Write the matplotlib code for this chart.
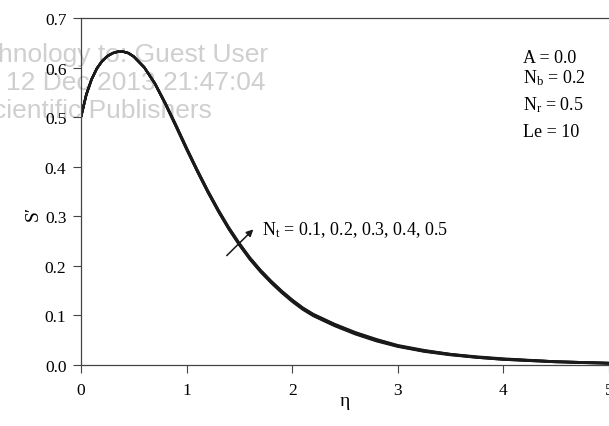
import matplotlib
matplotlib.use('Agg')
import matplotlib.pyplot as plt

plt.rcParams['font.family'] = ['Liberation Serif', 'DejaVu Serif']
plt.rcParams['mathtext.fontset'] = 'custom'
plt.rcParams['mathtext.rm'] = 'Liberation Serif'
plt.rcParams['mathtext.it'] = 'Liberation Serif:italic'

# eta grid and S' profiles for Nt = 0.1 ... 0.5
eta = [0.0, 0.05, 0.1, 0.15, 0.2, 0.25, 0.3, 0.35, 0.4, 0.45, 0.5, 0.6, 0.7,
       0.8, 0.9, 1.0, 1.1, 1.2, 1.3, 1.4, 1.5, 1.6, 1.7, 1.8, 1.9, 2.0, 2.1,
       2.2, 2.4, 2.6, 2.8, 3.0, 3.25, 3.5, 3.75, 4.0, 4.5, 5.0]
s_nt1 = [0.500, 0.545, 0.576, 0.598, 0.613, 0.623, 0.629, 0.632, 0.632, 0.629,
         0.622, 0.600, 0.567, 0.525, 0.480, 0.434, 0.390, 0.348, 0.309, 0.273,
         0.241, 0.212, 0.187, 0.165, 0.145, 0.127, 0.111, 0.098, 0.078, 0.061,
         0.047, 0.036, 0.026, 0.019, 0.014, 0.010, 0.005, 0.002]
s_nt2 = [0.500, 0.545, 0.576, 0.598, 0.613, 0.623, 0.629, 0.632, 0.632, 0.629,
         0.622, 0.600, 0.567, 0.526, 0.481, 0.435, 0.391, 0.349, 0.310, 0.274,
         0.242, 0.213, 0.188, 0.166, 0.146, 0.128, 0.112, 0.099, 0.079, 0.062,
         0.048, 0.037, 0.027, 0.020, 0.014, 0.010, 0.005, 0.002]
s_nt3 = [0.500, 0.545, 0.576, 0.598, 0.613, 0.623, 0.629, 0.632, 0.632, 0.629,
         0.622, 0.600, 0.568, 0.527, 0.482, 0.436, 0.392, 0.350, 0.311, 0.275,
         0.243, 0.214, 0.189, 0.167, 0.147, 0.129, 0.113, 0.100, 0.080, 0.063,
         0.049, 0.037, 0.027, 0.020, 0.015, 0.011, 0.006, 0.003]
s_nt4 = [0.500, 0.545, 0.576, 0.598, 0.613, 0.623, 0.629, 0.632, 0.632, 0.629,
         0.622, 0.600, 0.568, 0.527, 0.483, 0.437, 0.393, 0.351, 0.312, 0.276,
         0.244, 0.215, 0.190, 0.168, 0.148, 0.130, 0.114, 0.101, 0.081, 0.064,
         0.050, 0.038, 0.028, 0.021, 0.015, 0.011, 0.006, 0.003]
s_nt5 = [0.500, 0.545, 0.576, 0.598, 0.613, 0.623, 0.629, 0.632, 0.632, 0.629,
         0.622, 0.600, 0.568, 0.528, 0.484, 0.438, 0.394, 0.352, 0.313, 0.277,
         0.245, 0.216, 0.191, 0.169, 0.149, 0.131, 0.115, 0.102, 0.082, 0.065,
         0.051, 0.039, 0.029, 0.021, 0.016, 0.012, 0.006, 0.003]
profiles = [s_nt1, s_nt2, s_nt3, s_nt4, s_nt5]

x_ticks = [0, 1, 2, 3, 4, 5]
y_ticks = [0.0, 0.1, 0.2, 0.3, 0.4, 0.5, 0.6, 0.7]

fig = plt.figure(figsize=(6.09, 4.27), dpi=100)
ax = fig.add_axes([0.133, 0.144, 0.867, 0.8115])
ax.patch.set_alpha(0)

# watermark, partly cut off on the left
wm = dict(family='Liberation Sans', color='#cfcfcf', fontsize=19,
          ha='right', va='center', zorder=0.5, transform=fig.transFigure,
          clip_on=False)
ax.text(268 / 609, 1 - 55 / 427, 'hnology to: Guest User', **wm)
ax.text(265 / 609, 1 - 83 / 427, '12 Dec 2013 21:47:04', **wm)
ax.text(212 / 609, 1 - 111 / 427, 'cientific Publishers', **wm)

for s in profiles:
    ax.plot(eta, s, color='#1a1a1a', lw=1.7, zorder=2, solid_capstyle='butt')

ax.set_xlim(0, 5)
ax.set_ylim(0, 0.7)
ax.set_xticks(x_ticks)
ax.set_xticklabels([str(t) for t in x_ticks])
ax.set_yticks(y_ticks)
ax.set_yticklabels(['%.1f' % t for t in y_ticks])

for side in ['left', 'bottom', 'top']:
    ax.spines[side].set_color('#444444')
    ax.spines[side].set_linewidth(0.9)
ax.spines['right'].set_visible(False)
ax.tick_params(direction='out', length=5.5, width=0.8, color='#444444',
               labelsize=12.5, pad=5)
ax.tick_params(axis='x', pad=7)

ax.set_xlabel('η', fontsize=14)
ax.xaxis.set_label_coords(0.5, -0.08)
ax.set_ylabel('S′', fontsize=14)
ax.yaxis.set_label_coords(-0.075, 0.44)

fs = 13
ax.text(4.19, 0.611, 'A = 0.0', fontsize=fs)
ax.text(4.19, 0.571, r'N$_\mathrm{b}$ = 0.2', fontsize=fs)
ax.text(4.19, 0.516, r'N$_\mathrm{r}$ = 0.5', fontsize=fs)
ax.text(4.19, 0.462, 'Le = 10', fontsize=fs)

ax.annotate('', xy=(1.632, 0.273), xytext=(1.38, 0.220),
            arrowprops=dict(arrowstyle='-|>', color='#1a1a1a', lw=1.1,
                            mutation_scale=10, shrinkA=0, shrinkB=0))
ax.text(1.714, 0.264, r'N$_\mathrm{t}$ = 0.1, 0.2, 0.3, 0.4, 0.5', fontsize=fs)

fig.savefig('out.png', dpi=100)
